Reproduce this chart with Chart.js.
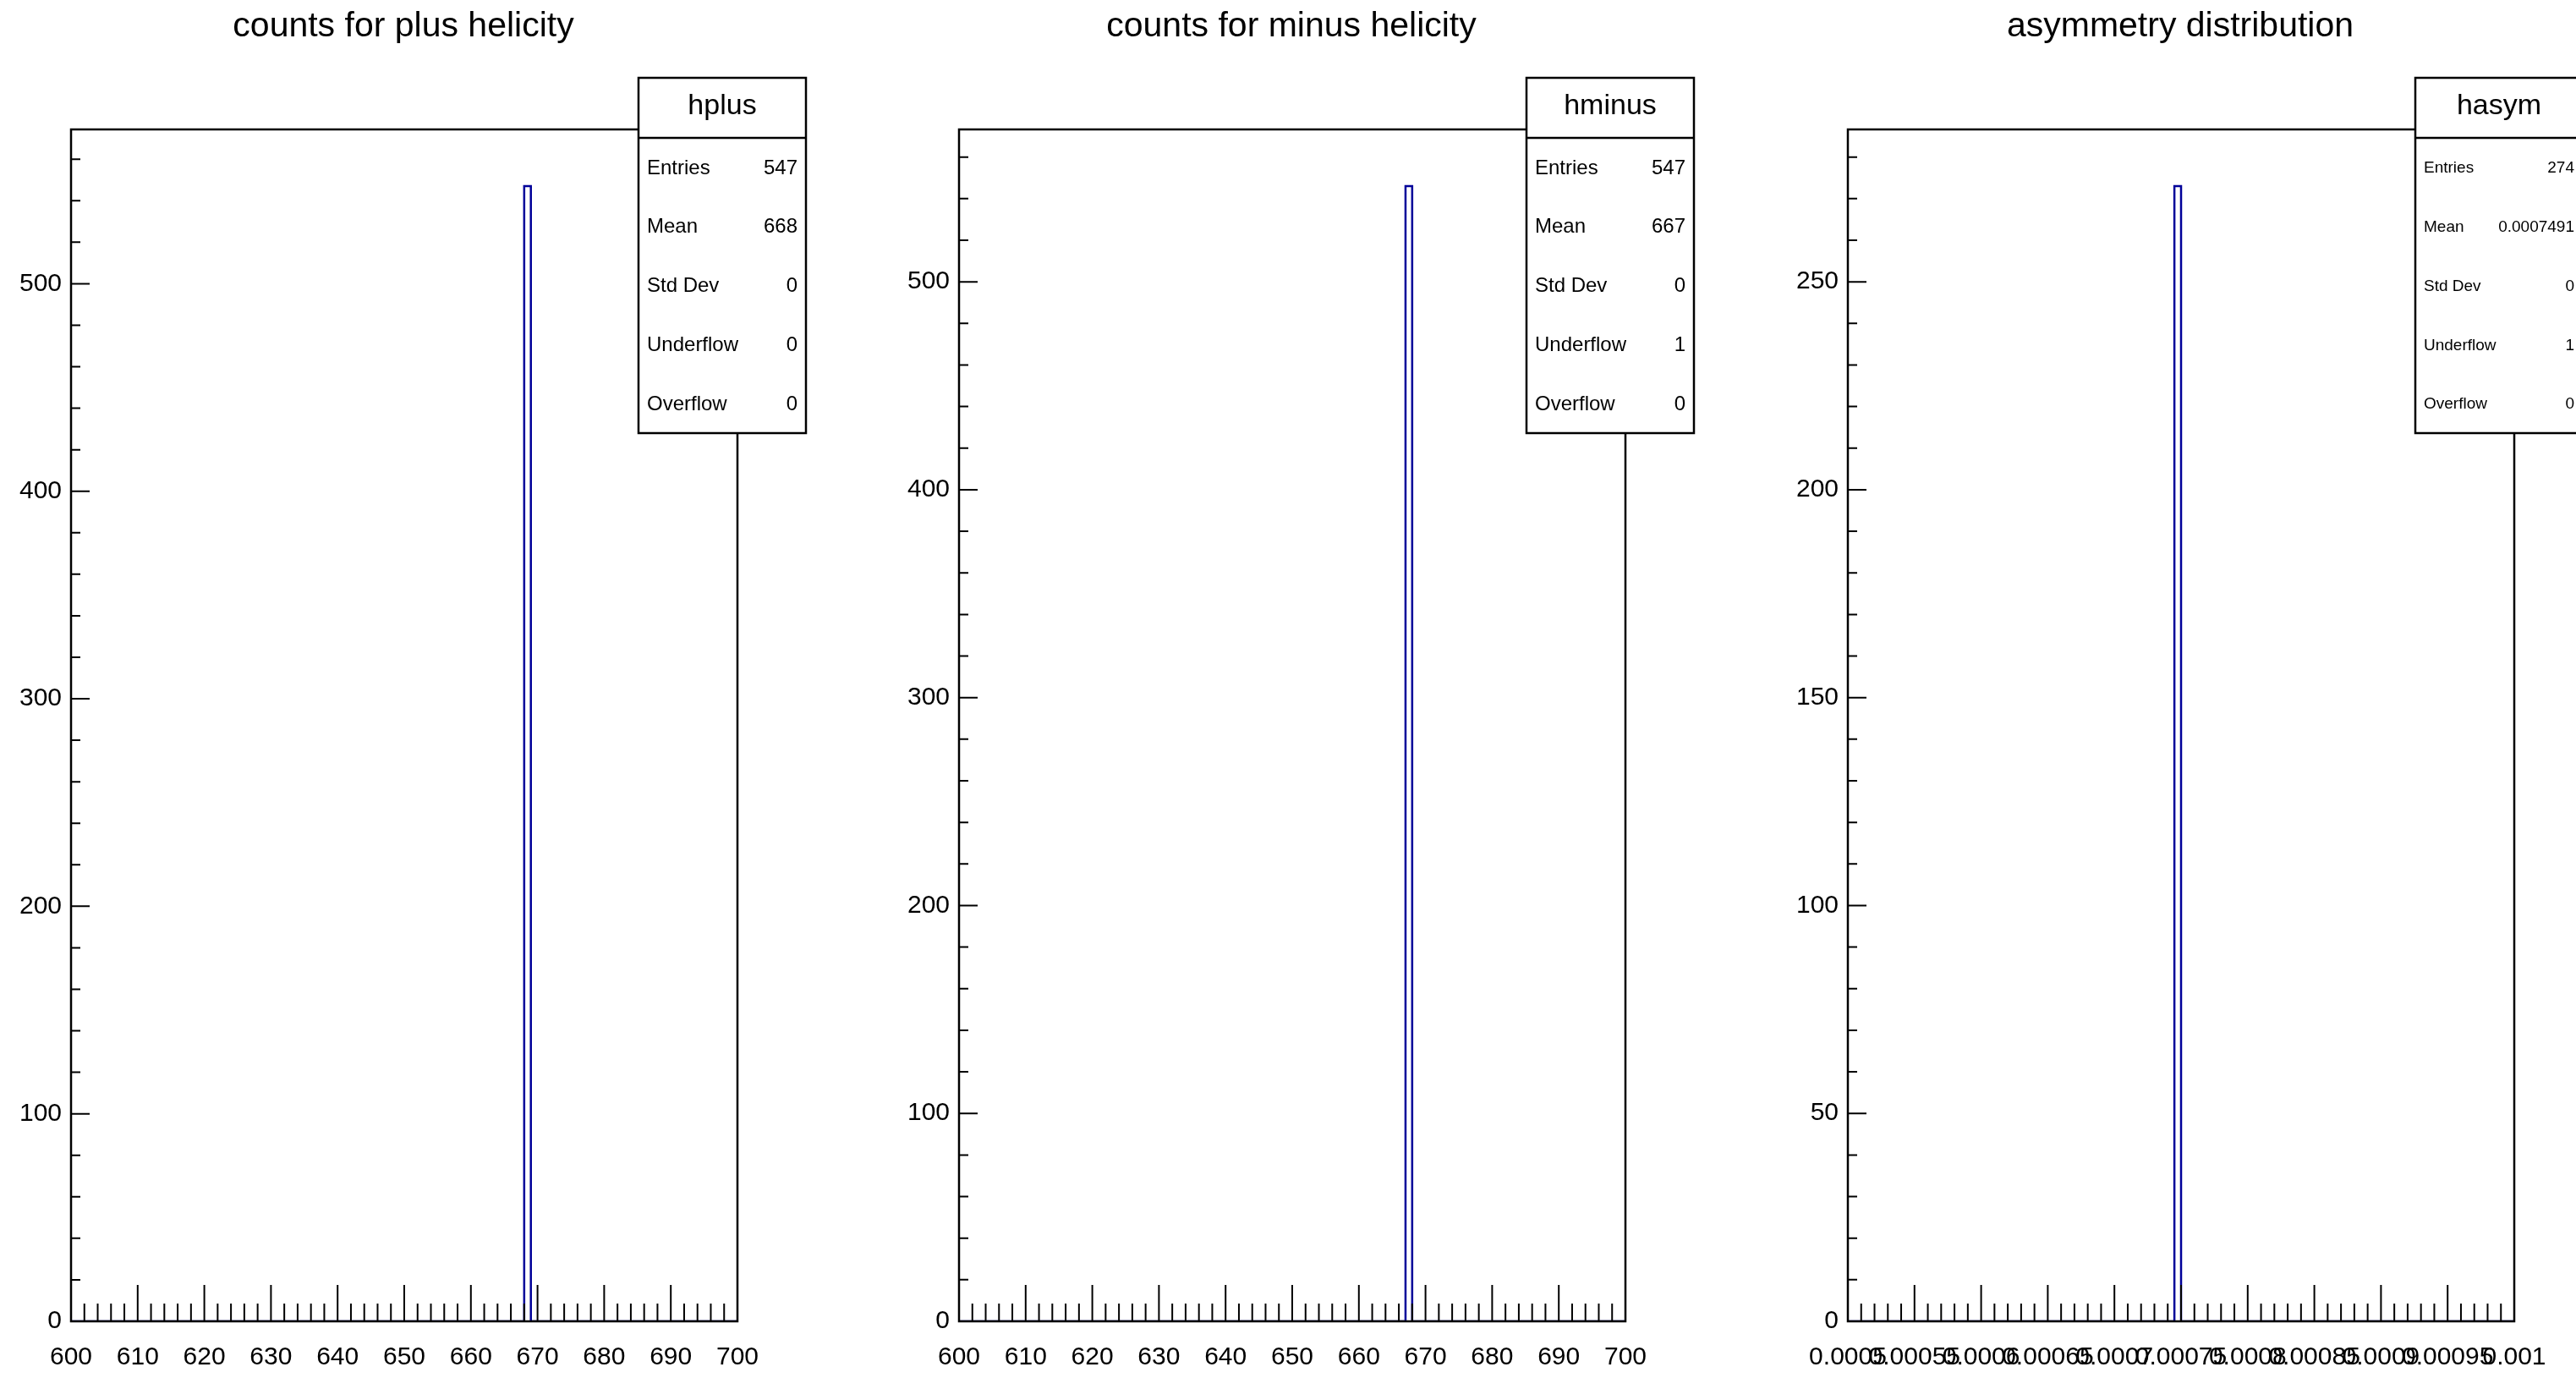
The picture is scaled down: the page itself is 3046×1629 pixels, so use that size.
<!DOCTYPE html>
<html>
<head>
<meta charset="utf-8">
<title>helicity histograms</title>
<script src="https://cdn.jsdelivr.net/npm/chart.js@4.4.1/dist/chart.umd.min.js"></script>
<style>
  html, body { margin: 0; padding: 0; background: #fff; width: 3046px; height: 1629px; overflow: hidden; }
  canvas { position: absolute; top: 0; }
</style>
</head>
<body>
<canvas id="cPlus" width="1050" height="1629" style="left:0px"></canvas>
<canvas id="cMinus" width="1050" height="1629" style="left:1050px"></canvas>
<canvas id="cAsym" width="1050" height="1629" style="left:2101px"></canvas>
<script>
const FONT = "'Liberation Sans', Arial, Helvetica, sans-serif";

// histogram contents: bin edges (low edges + upper limit) and bin counts
const plusEdges = [600, 668, 669, 700];
const plusCounts = [0, 547, 0, 0];
const minusEdges = [600, 667, 668, 700];
const minusCounts = [0, 546, 0, 0];
const asymEdges = [0.0005, 0.000745, 0.00075, 0.001];
const asymCounts = [0, 273, 0, 0];

// axis ticks and labels
const countXTicks = [600, 610, 620, 630, 640, 650, 660, 670, 680, 690, 700];
const countXLabels = ['600', '610', '620', '630', '640', '650', '660', '670', '680', '690', '700'];
const countYTicks = [0, 100, 200, 300, 400, 500];
const asymXTicks = [0.0005, 0.00055, 0.0006, 0.00065, 0.0007, 0.00075, 0.0008, 0.00085, 0.0009, 0.00095, 0.001];
const asymXLabels = ['0.0005', '0.00055', '0.0006', '0.00065', '0.0007', '0.00075', '0.0008', '0.00085', '0.0009', '0.00095', '0.001'];
const asymYTicks = [0, 50, 100, 150, 200, 250];

// stats boxes
const statLabels = ['Entries', 'Mean', 'Std Dev', 'Underflow', 'Overflow'];
const plusStats = ['547', '668', '0', '0', '0'];
const minusStats = ['547', '667', '0', '1', '0'];
const asymStats = ['274', '0.0007491', '0', '1', '0'];

// frame + ROOT style inner ticks (major and 5 minor divisions)
const frameTicks = {
  id: 'frameTicks',
  afterDatasetsDraw(chart) {
    const { ctx, chartArea: a, scales: { x, y } } = chart;
    ctx.save();
    ctx.strokeStyle = '#000';
    ctx.lineWidth = 2;
    ctx.beginPath();
    const xt = x.ticks.map(t => t.value);
    const xStep = (xt[1] - xt[0]) / 5;
    for (let i = 0; i <= (xt.length - 1) * 5; i++) {
      const px = x.getPixelForValue(xt[0] + i * xStep);
      ctx.moveTo(px, a.bottom);
      ctx.lineTo(px, a.bottom - (i % 5 === 0 ? 43 : 21));
    }
    const yt = y.ticks.map(t => t.value);
    const yStep = (yt[1] - yt[0]) / 5;
    for (let i = 0; yt[0] + i * yStep <= y.max + 1e-9; i++) {
      const py = y.getPixelForValue(yt[0] + i * yStep);
      ctx.moveTo(a.left, py);
      ctx.lineTo(a.left + (i % 5 === 0 ? 22 : 11), py);
    }
    ctx.stroke();
    ctx.lineWidth = 2.5;
    ctx.strokeRect(a.left, a.top, a.right - a.left, a.bottom - a.top);
    ctx.restore();
  }
};

const statsBox = {
  id: 'statsBox',
  afterDraw(chart, args, o) {
    const { ctx, chartArea: a } = chart;
    const left = a.right - 117, top = a.top - 61, w = 198, h = 420, head = 71;
    ctx.save();
    ctx.fillStyle = '#fff';
    ctx.fillRect(left, top, w, h);
    ctx.strokeStyle = '#000';
    ctx.lineWidth = 2.5;
    ctx.strokeRect(left, top, w, h);
    ctx.beginPath();
    ctx.moveTo(left, top + head);
    ctx.lineTo(left + w, top + head);
    ctx.stroke();
    ctx.fillStyle = '#000';
    ctx.font = '34px ' + FONT;
    ctx.textAlign = 'center';
    ctx.textBaseline = 'alphabetic';
    ctx.fillText(o.name, left + w / 2, top + 43);
    const rowH = (h - head) / 5;
    ctx.font = o.size + 'px ' + FONT;
    ctx.textBaseline = 'middle';
    statLabels.forEach((lab, i) => {
      const yy = top + head + rowH * (i + 0.5) + 1;
      ctx.textAlign = 'left';
      ctx.fillText(lab, left + 10, yy);
      ctx.textAlign = 'right';
      ctx.fillText(o.values[i], left + w - 10, yy);
    });
    // pad title
    ctx.font = '41px ' + FONT;
    ctx.textAlign = 'center';
    ctx.textBaseline = 'alphabetic';
    ctx.fillText(o.title, (a.left + a.right) / 2 - 1, 43);
    ctx.restore();
  }
};

function makePanel(id, p) {
  const ctx = document.getElementById(id).getContext('2d');
  return new Chart(ctx, {
    type: 'line',
    data: {
      datasets: [{
        data: p.edges.map((e, i) => ({ x: e, y: p.counts[i] })),
        stepped: true,
        borderColor: '#000099',
        borderWidth: 2.5,
        pointRadius: 0,
        fill: false
      }]
    },
    options: {
      responsive: false,
      animation: false,
      devicePixelRatio: 1,
      layout: { padding: { left: 0, right: 178, top: 153, bottom: 0 } },
      plugins: {
        legend: { display: false },
        tooltip: { enabled: false },
        statsBox: { name: p.name, title: p.title, values: p.stats, size: p.statSize }
      },
      scales: {
        x: {
          type: 'linear',
          bounds: 'data',
          min: p.xMin,
          max: p.xMax,
          afterBuildTicks: s => { s.ticks = p.xTicks.map(v => ({ value: v })); },
          afterFit: s => { s.height = 67; },
          grid: { display: false, drawTicks: false },
          border: { display: false },
          ticks: {
            autoSkip: false,
            maxRotation: 0,
            minRotation: 0,
            padding: 25,
            color: '#000',
            font: { family: FONT, size: 30 },
            callback: (v, i) => p.xLabels[i]
          }
        },
        y: {
          type: 'linear',
          bounds: 'data',
          min: 0,
          max: p.yMax,
          afterBuildTicks: s => { s.ticks = p.yTicks.map(v => ({ value: v })); },
          afterFit: s => { s.width = 84; },
          grid: { display: false, drawTicks: false },
          border: { display: false },
          ticks: {
            padding: 11,
            color: '#000',
            font: { family: FONT, size: 30 },
            callback: v => String(v)
          }
        }
      }
    },
    plugins: [frameTicks, statsBox]
  });
}

makePanel('cPlus', {
  edges: plusEdges, counts: plusCounts, xMin: 600, xMax: 700, yMax: 574.35,
  xTicks: countXTicks, xLabels: countXLabels, yTicks: countYTicks,
  name: 'hplus', title: 'counts for plus helicity', stats: plusStats, statSize: 24
});
makePanel('cMinus', {
  edges: minusEdges, counts: minusCounts, xMin: 600, xMax: 700, yMax: 573.3,
  xTicks: countXTicks, xLabels: countXLabels, yTicks: countYTicks,
  name: 'hminus', title: 'counts for minus helicity', stats: minusStats, statSize: 24
});
makePanel('cAsym', {
  edges: asymEdges, counts: asymCounts, xMin: 0.0005, xMax: 0.001, yMax: 286.65,
  xTicks: asymXTicks, xLabels: asymXLabels, yTicks: asymYTicks,
  name: 'hasym', title: 'asymmetry distribution', stats: asymStats, statSize: 19
});
</script>
</body>
</html>
